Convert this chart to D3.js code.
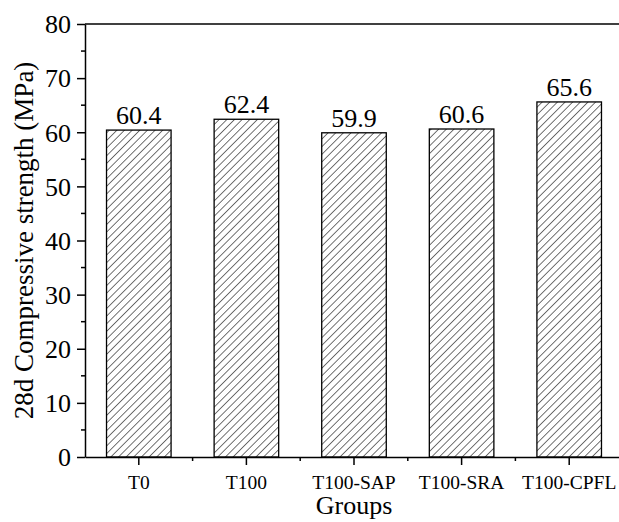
<!DOCTYPE html>
<html>
<head>
<meta charset="utf-8">
<script src="https://cdn.jsdelivr.net/npm/d3@7"></script>
<style>
  body { margin: 0; background: #fff; }
  svg { display: block; }
  svg text { font-family: "Liberation Serif", "Times New Roman", serif; }
</style>
</head>
<body>
<script>
var groups = ['T0', 'T100', 'T100-SAP', 'T100-SRA', 'T100-CPFL'];
var strength = [60.4, 62.4, 59.9, 60.6, 65.6];
var yTicks = [0, 10, 20, 30, 40, 50, 60, 70, 80];

var W = 619, H = 522;
var margin = { top: 24, right: -4, bottom: 65, left: 85 };
var width = W - margin.left - margin.right,
    height = H - margin.top - margin.bottom;

var svg = d3.select(document.body).append('svg')
    .attr('width', W).attr('height', H);

var defs = svg.append('defs');
defs.append('pattern')
    .attr('id', 'hatch')
    .attr('patternUnits', 'userSpaceOnUse')
    .attr('width', 5.4).attr('height', 5.4)
    .attr('patternTransform', 'rotate(45)')
  .append('line')
    .attr('x1', 0).attr('y1', 0).attr('x2', 0).attr('y2', 5.4)
    .attr('stroke', '#000').attr('stroke-width', 1.1);

var g = svg.append('g')
    .attr('transform', 'translate(' + margin.left + ',' + margin.top + ')');

var x = d3.scaleBand().domain(groups).range([0, width]).padding(0);
var y = d3.scaleLinear().domain([0, 80]).range([height, 0]);

var barW = x.bandwidth() * 0.6;

// bars
g.selectAll('.bar').data(groups).enter().append('rect')
    .attr('class', 'bar')
    .attr('x', function(d) { return x(d) + (x.bandwidth() - barW) / 2; })
    .attr('y', function(d, i) { return y(strength[i]); })
    .attr('width', barW)
    .attr('height', function(d, i) { return height - y(strength[i]); })
    .attr('fill', 'url(#hatch)')
    .attr('stroke', '#000').attr('stroke-width', 1.3);

// value labels
g.selectAll('.val').data(groups).enter().append('text')
    .attr('class', 'val')
    .attr('x', function(d) { return x(d) + x.bandwidth() / 2; })
    .attr('y', function(d, i) { return y(strength[i]) - 6; })
    .attr('text-anchor', 'middle')
    .attr('font-size', 26)
    .text(function(d, i) { return strength[i].toFixed(1); });

// frame top line
g.append('line')
    .attr('x1', 0).attr('x2', width).attr('y1', 0).attr('y2', 0)
    .attr('stroke', '#000').attr('stroke-width', 1.5);

// y axis
var yAxis = g.append('g')
    .call(d3.axisLeft(y).tickValues(yTicks).tickSize(8).tickPadding(6).tickSizeOuter(0))
    .attr('font-family', null).attr('font-size', null);
yAxis.select('.domain').attr('stroke-width', 1.5);
yAxis.selectAll('.tick line').attr('stroke-width', 1.5);
yAxis.selectAll('.tick text').attr('font-size', 26).attr('dy', '0.34em');
var yMinor = yTicks.slice(0, -1).map(function(v) { return v + 5; });
g.append('g').selectAll('line').data(yMinor).enter().append('line')
    .attr('x1', -4).attr('x2', 0)
    .attr('y1', function(d) { return y(d); }).attr('y2', function(d) { return y(d); })
    .attr('stroke', '#000').attr('stroke-width', 1.5);

// x axis
var xAxis = g.append('g')
    .attr('transform', 'translate(0,' + height + ')')
    .call(d3.axisBottom(x).tickSize(8).tickPadding(10).tickSizeOuter(0))
    .attr('font-family', null).attr('font-size', null);
xAxis.select('.domain').attr('stroke-width', 1.5);
xAxis.selectAll('.tick line').attr('stroke-width', 1.5);
xAxis.selectAll('.tick text').attr('font-size', 19.5);
var xMinor = groups.slice(1).map(function(d) { return x(d); });
g.append('g').selectAll('line').data(xMinor).enter().append('line')
    .attr('x1', function(d) { return d; }).attr('x2', function(d) { return d; })
    .attr('y1', height).attr('y2', height + 4)
    .attr('stroke', '#000').attr('stroke-width', 1.5);

// titles
svg.append('text')
    .attr('transform', 'translate(33,' + (margin.top + height / 2) + ') rotate(-90)')
    .attr('text-anchor', 'middle')
    .attr('font-size', 27)
    .text('28d Compressive strength (MPa)');

svg.append('text')
    .attr('x', margin.left + x('T100-SAP') + x.bandwidth() / 2)
    .attr('y', 514)
    .attr('text-anchor', 'middle')
    .attr('font-size', 26)
    .text('Groups');
</script>
</body>
</html>
